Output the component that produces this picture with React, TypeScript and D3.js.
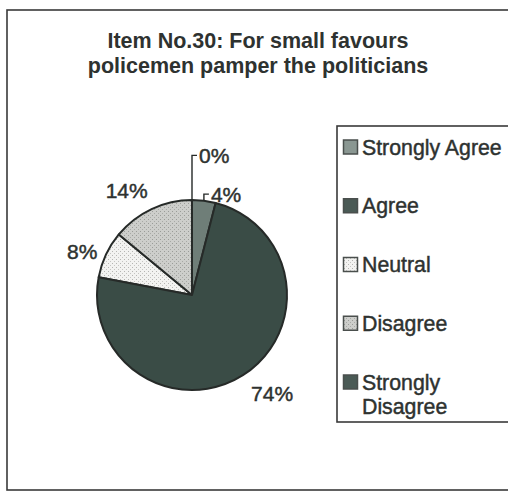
import React from "react";
import * as d3 from "d3";

const categories = ["Strongly Agree", "Agree", "Neutral", "Disagree", "Strongly Disagree"];
const values = [4, 0, 8, 14, 74];
const legendLines = [["Strongly Agree"], ["Agree"], ["Neutral"], ["Disagree"], ["Strongly", "Disagree"]];
// clockwise drawing order from 12 o'clock, as in the picture
const drawOrder = ["Agree", "Strongly Agree", "Strongly Disagree", "Neutral", "Disagree"];
const titleLines = ["Item No.30: For small favours", "policemen pamper the politicians"];

const fills: Record<string, string> = {
  "Strongly Agree": "#6f7e78",
  "Agree": "#3d4d48",
  "Neutral": "url(#patNeutral)",
  "Disagree": "url(#patDisagree)",
  "Strongly Disagree": "#3a4c46",
};
const legendFills: Record<string, string> = {
  "Strongly Agree": "#8a9792",
  "Agree": "#4a5a55",
  "Neutral": "url(#patNeutral)",
  "Disagree": "url(#patDisagree)",
  "Strongly Disagree": "#4a5a55",
};
// label placement: "out" = radial label, "leader" = leader line above
const labelMode: Record<string, string> = {
  "Strongly Agree": "leader",
  "Agree": "leader",
  "Neutral": "out",
  "Disagree": "out",
  "Strongly Disagree": "out",
};
const labelDist: Record<string, number> = {
  "Neutral": 1.1,
  "Disagree": 1.22,
  "Strongly Disagree": 1.22,
};
const labelDx: Record<string, number> = {
  "Neutral": 0,
  "Disagree": 5,
  "Strongly Disagree": -3,
};
const leaderTop: Record<string, number> = {
  "Agree": 0.47,
  "Strongly Agree": 0.07,
};

const W = 508;
const H = 493;
const cx = 192;
const cy = 295;
const R = 95;
const FONT = "Arial, 'Liberation Sans', Helvetica, sans-serif";
const TXT = "#2e3230";

export default function App() {
  const data = categories.map((c, i) => ({ cat: c, value: values[i] }));
  const pie = d3
    .pie<{ cat: string; value: number }>()
    .value((d) => d.value)
    .sort((a, b) => drawOrder.indexOf(a.cat) - drawOrder.indexOf(b.cat));
  const arcs = pie(data);
  const arc = d3.arc<d3.PieArcDatum<{ cat: string; value: number }>>().innerRadius(0).outerRadius(R);

  const legendY = d3.scaleLinear().domain([0, 4]).range([147, 382]);
  const textStyle = { stroke: TXT, strokeWidth: 0.45 };

  return (
    <svg
      width={W}
      height={H}
      style={{ position: "absolute", left: 0, top: 0, background: "#fff", fontFamily: FONT }}
    >
      <defs>
        <pattern id="patNeutral" width="4" height="4" patternUnits="userSpaceOnUse">
          <rect width="4" height="4" fill="#f3f3f1" />
          <rect x="0" y="0" width="1" height="1" fill="#b5b5b2" />
          <rect x="2" y="2" width="1" height="1" fill="#c5c5c2" />
        </pattern>
        <pattern id="patDisagree" width="4" height="4" patternUnits="userSpaceOnUse">
          <rect width="4" height="4" fill="#cdcecb" />
          <rect x="0" y="0" width="1" height="1" fill="#9a9c98" />
          <rect x="2" y="2" width="1" height="1" fill="#a8aaa6" />
        </pattern>
      </defs>
      <rect x={0} y={0} width={W} height={H} fill="#fff" />
      {/* outer frame */}
      <rect x={7} y={10} width={510} height={480} fill="none" stroke="#3a3a3a" strokeWidth={1.6} />

      {/* title */}
      {titleLines.map((t, i) => (
        <text
          key={t}
          x={258}
          y={48 + i * 25}
          textAnchor="middle"
          fontSize={21.5}
          fontWeight="bold"
          fill={TXT}
        >
          {t}
        </text>
      ))}

      {/* pie */}
      <g transform={`translate(${cx},${cy})`}>
        {arcs.map((a) => (
          <path
            key={a.data.cat}
            d={arc(a) || ""}
            fill={fills[a.data.cat]}
            stroke="#262a28"
            strokeWidth={2}
            strokeLinejoin="round"
          />
        ))}
        {arcs.map((a) => {
          const mid = (a.startAngle + a.endAngle) / 2;
          const label = `${a.data.value}%`;
          if (labelMode[a.data.cat] === "leader") {
            const x0 = Math.sin(mid) * R;
            const y0 = -Math.cos(mid) * R;
            const yTop = y0 - R * leaderTop[a.data.cat];
            return (
              <g key={a.data.cat}>
                <polyline
                  points={`${x0},${y0} ${x0},${yTop} ${x0 + 5},${yTop}`}
                  fill="none"
                  stroke="#262a28"
                  strokeWidth={1.4}
                />
                <text x={x0 + 7} y={yTop + 7.5} fontSize={21} fill={TXT} style={textStyle}>
                  {label}
                </text>
              </g>
            );
          }
          const d = labelDist[a.data.cat] * R;
          const x = Math.sin(mid) * d + labelDx[a.data.cat];
          const y = -Math.cos(mid) * d;
          return (
            <text
              key={a.data.cat}
              x={x}
              y={y + 8}
              fontSize={21}
              textAnchor={x < 0 ? "end" : "start"}
              fill={TXT}
              style={textStyle}
            >
              {label}
            </text>
          );
        })}
      </g>

      {/* legend */}
      <rect x={337} y={126} width={180} height={296} fill="none" stroke="#3a3a3a" strokeWidth={1.6} />
      {categories.map((c, i) => {
        const y = legendY(i);
        return (
          <g key={c}>
            <rect
              x={343.5}
              y={y - 7}
              width={14}
              height={14}
              fill={legendFills[c]}
              stroke="#4a4f4d"
              strokeWidth={1.5}
            />
            {legendLines[i].map((ln, j) => (
              <text
                key={ln + j}
                x={362}
                y={y + 7.5 + j * 24}
                fontSize={21.3}
                fill={TXT}
                style={textStyle}
              >
                {ln}
              </text>
            ))}
          </g>
        );
      })}
    </svg>
  );
}
